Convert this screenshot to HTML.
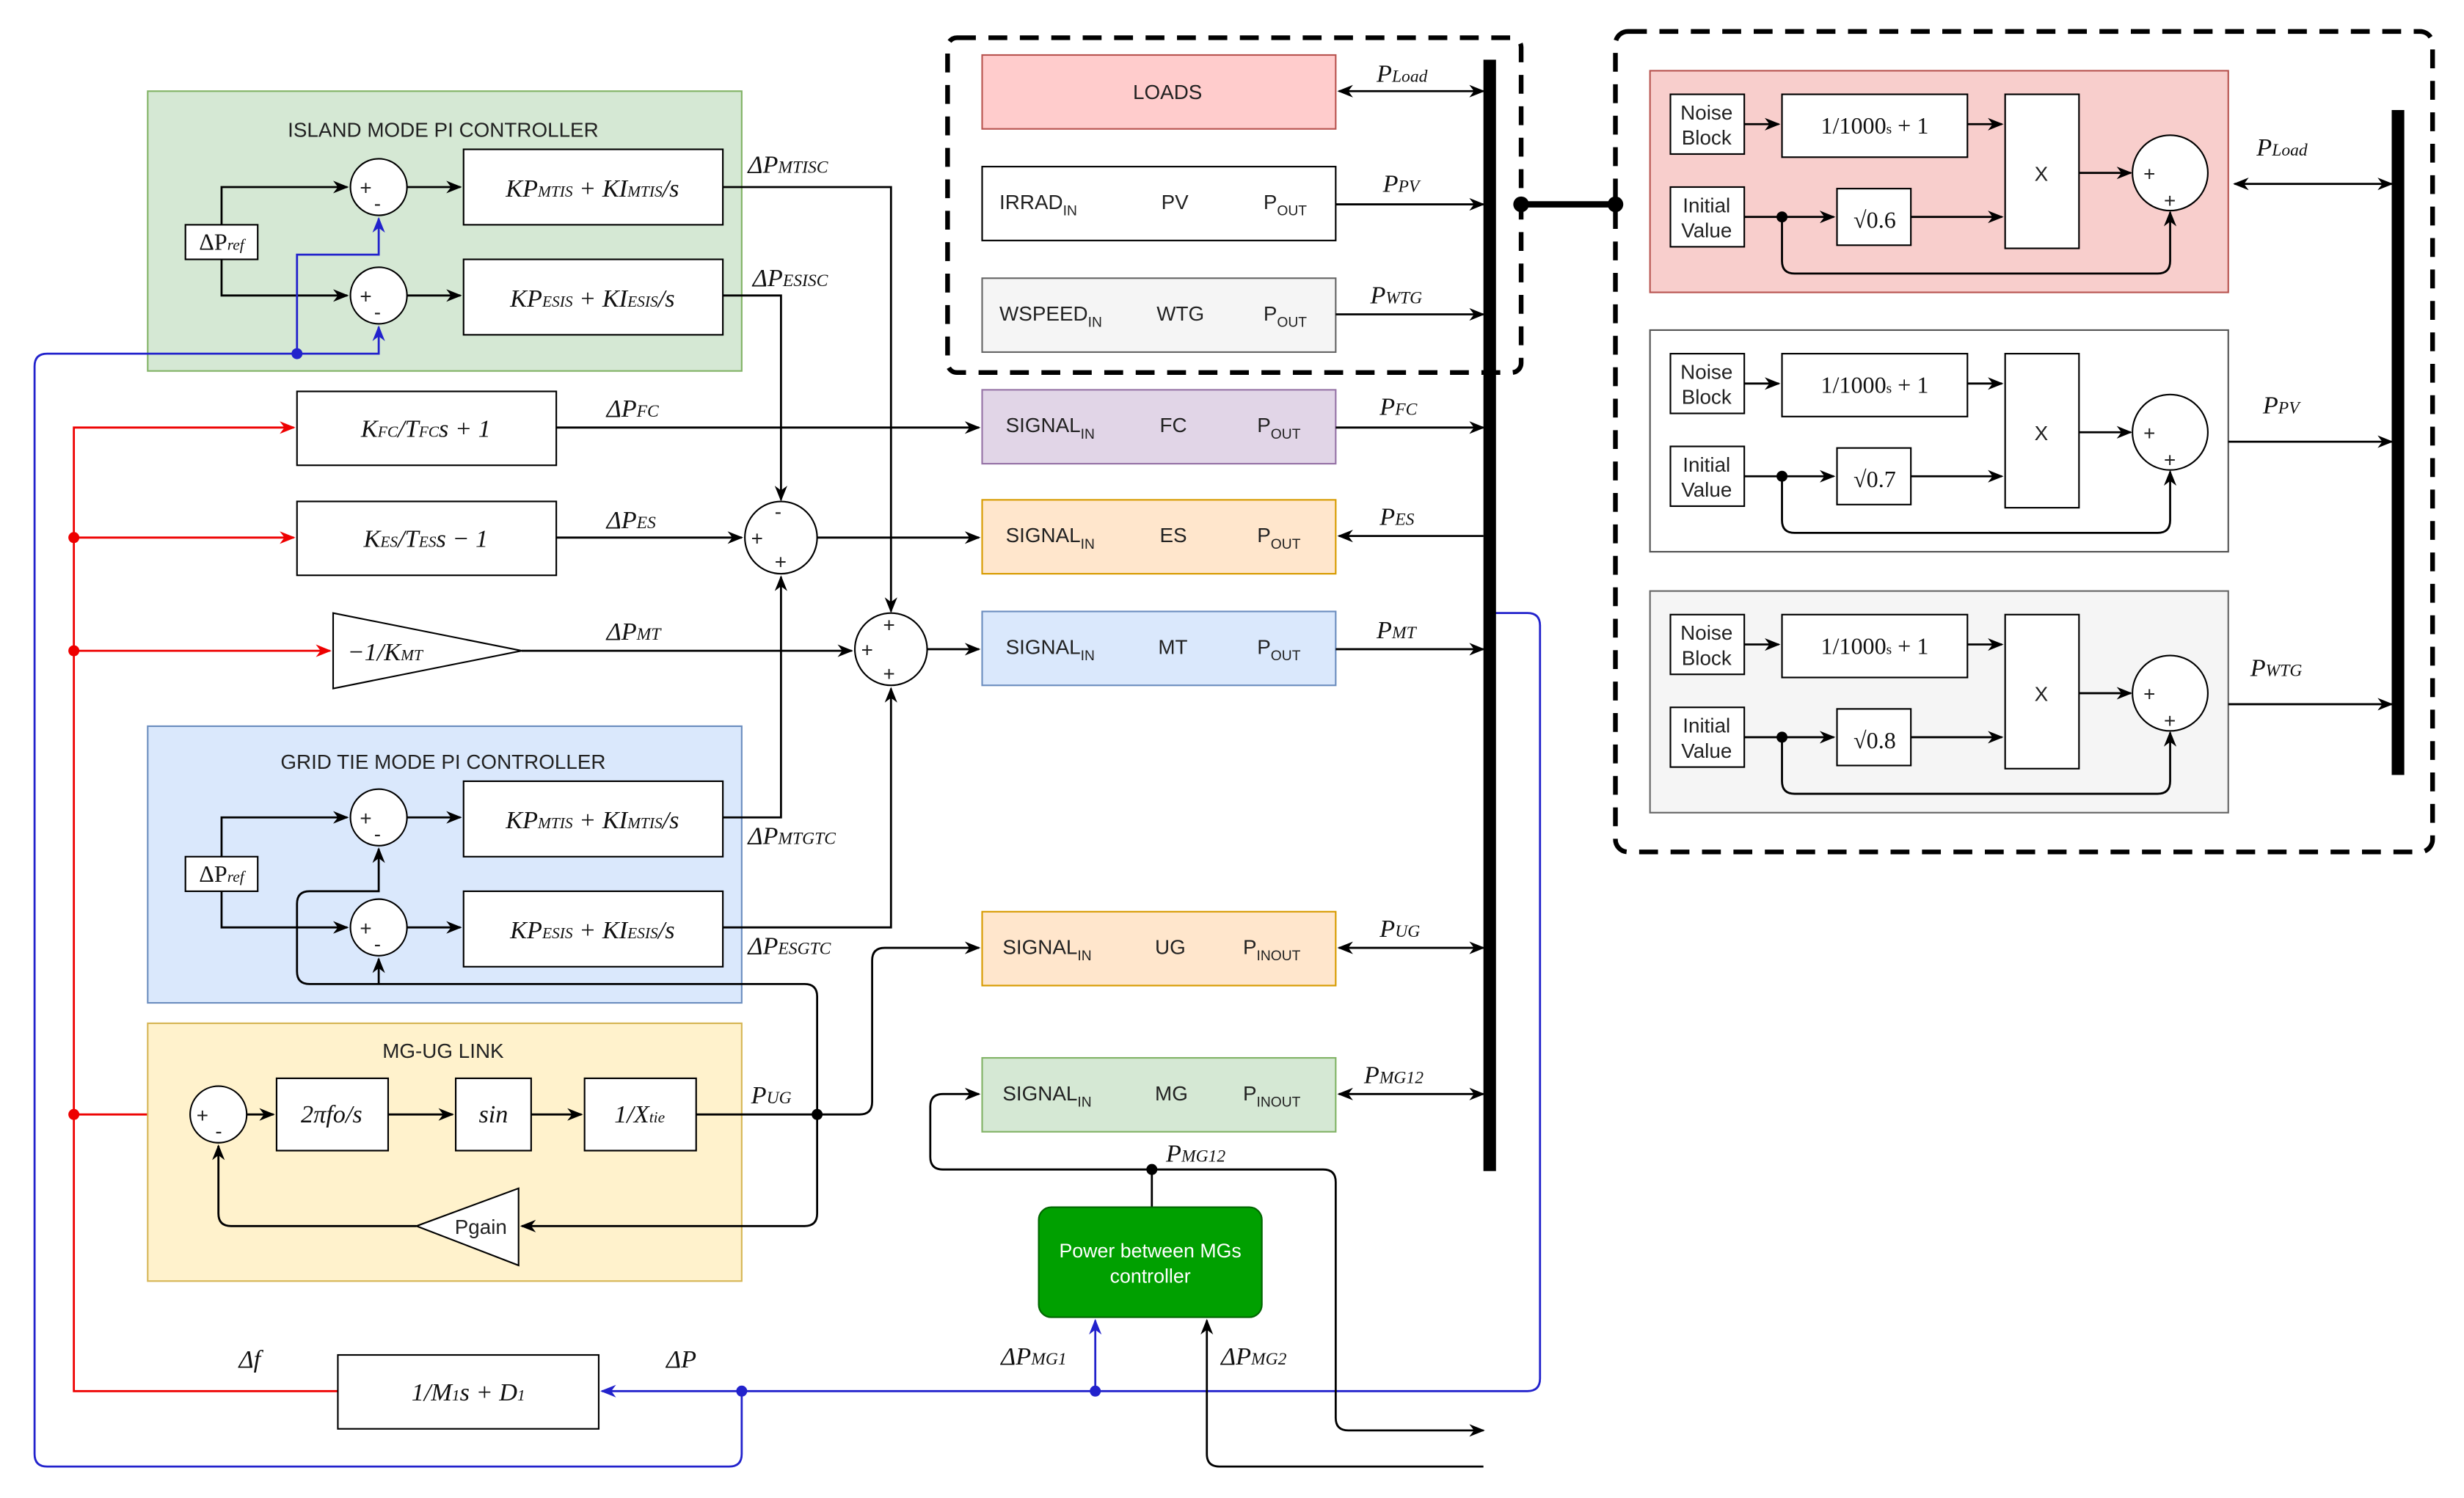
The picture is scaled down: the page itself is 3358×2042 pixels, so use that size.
<!DOCTYPE html>
<html><head><meta charset="utf-8"><style>
html,body{margin:0;padding:0;background:#fff;}
svg{display:block;}
.t{font-family:"Liberation Sans",sans-serif;font-size:13px;fill:#222;}
.m{font-family:"Liberation Serif",serif;font-style:italic;font-size:16px;fill:#111;}
.ms{font-family:"Liberation Serif",serif;font-size:15px;fill:#111;}
</style></head><body>
<svg width="3358" height="2042" viewBox="0 0 1568 953" preserveAspectRatio="none" xmlns="http://www.w3.org/2000/svg">
<defs>
<marker id="a" markerWidth="10" markerHeight="10" refX="9" refY="5" orient="auto" markerUnits="userSpaceOnUse"><path d="M0,1 L10,5 L0,9 L3,5z" fill="#000"/></marker>
<marker id="ar" markerWidth="10" markerHeight="10" refX="9" refY="5" orient="auto" markerUnits="userSpaceOnUse"><path d="M0,1 L10,5 L0,9 L3,5z" fill="#e00"/></marker>
<marker id="ab" markerWidth="10" markerHeight="10" refX="9" refY="5" orient="auto" markerUnits="userSpaceOnUse"><path d="M0,1 L10,5 L0,9 L3,5z" fill="#22c"/></marker>
<marker id="as" markerWidth="10" markerHeight="10" refX="1" refY="5" orient="auto" markerUnits="userSpaceOnUse"><path d="M10,1 L0,5 L10,9 L7,5z" fill="#000"/></marker>
</defs>
<rect width="1568" height="953" fill="#fff"/>

<!-- Island PI -->
<rect x="94" y="58" width="378" height="178" fill="#d5e8d4" stroke="#82b366"/>
<text class="t" x="282" y="87" text-anchor="middle">ISLAND MODE PI CONTROLLER</text>
<rect x="118" y="143" width="46" height="22" fill="#fff" stroke="#000"/>
<text class="ms" x="141" y="159" text-anchor="middle">ΔP<tspan font-size="10" font-style="italic">ref</tspan></text>
<g fill="none" stroke="#000" stroke-width="1.3">
<path d="M141,143 V119 H221" marker-end="url(#a)"/>
<path d="M141,165 V188 H221" marker-end="url(#a)"/>
<path d="M259,119 H293" marker-end="url(#a)"/>
<path d="M259,188 H293" marker-end="url(#a)"/>
<path d="M460,119 H567 V389" marker-end="url(#a)"/>
<path d="M460,188 H497 V318" marker-end="url(#a)"/>
</g>
<circle cx="241" cy="119" r="18" fill="#fff" stroke="#000"/>
<circle cx="241" cy="188" r="18" fill="#fff" stroke="#000"/>
<text class="t" x="229" y="124">+</text><text class="t" x="238" y="134">-</text>
<text class="t" x="229" y="193">+</text><text class="t" x="238" y="203">-</text>
<rect x="295" y="95" width="165" height="48" fill="#fff" stroke="#000"/>
<text class="m" x="377" y="125" text-anchor="middle">KP<tspan font-size="10">MTIS</tspan> + KI<tspan font-size="10">MTIS</tspan>/s</text>
<rect x="295" y="165" width="165" height="48" fill="#fff" stroke="#000"/>
<text class="m" x="377" y="195" text-anchor="middle">KP<tspan font-size="10">ESIS</tspan> + KI<tspan font-size="10">ESIS</tspan>/s</text>
<text class="m" x="476" y="110">ΔP<tspan font-size="11">MTISC</tspan></text>
<text class="m" x="479" y="182">ΔP<tspan font-size="11">ESISC</tspan></text>

<!-- blue lines -->
<g fill="none" stroke="#22c" stroke-width="1.3">
<path d="M189,225 V162 H241 V139" marker-end="url(#ab)"/>
<path d="M189,225 H241 V208" marker-end="url(#ab)"/>
<path d="M189,225 H30 Q22,225 22,233 V925 Q22,933 30,933 H464 Q472,933 472,925 V885"/>
<path d="M950,390 H972 Q980,390 980,398 V877 Q980,885 972,885 H383" marker-end="url(#ab)"/>
<path d="M697,885 V840" marker-end="url(#ab)"/>
</g>
<circle cx="189" cy="225" r="3.5" fill="#22c"/>
<circle cx="472" cy="885" r="3.5" fill="#22c"/>
<circle cx="697" cy="885" r="3.5" fill="#22c"/>

<!-- red lines -->
<g fill="none" stroke="#e00" stroke-width="1.3">
<path d="M215,885 H47 V272 H187" marker-end="url(#ar)"/>
<path d="M47,342 H187" marker-end="url(#ar)"/>
<path d="M47,414 H210" marker-end="url(#ar)"/>
<path d="M47,709 H119" marker-end="url(#ar)"/>
</g>
<circle cx="47" cy="342" r="3.5" fill="#e00"/>
<circle cx="47" cy="414" r="3.5" fill="#e00"/>
<circle cx="47" cy="709" r="3.5" fill="#e00"/>

<rect x="189" y="249" width="165" height="47" fill="#fff" stroke="#000"/>
<text class="m" x="271" y="278" text-anchor="middle">K<tspan font-size="10">FC</tspan>/T<tspan font-size="10">FC</tspan>s + 1</text>
<rect x="189" y="319" width="165" height="47" fill="#fff" stroke="#000"/>
<text class="m" x="271" y="348" text-anchor="middle">K<tspan font-size="10">ES</tspan>/T<tspan font-size="10">ES</tspan>s − 1</text>
<path d="M212,390 L212,438 L332,414Z" fill="#fff" stroke="#000"/>
<text class="m" x="245" y="420" text-anchor="middle">−1/K<tspan font-size="10">MT</tspan></text>

<g fill="none" stroke="#000" stroke-width="1.3">
<path d="M354,272 H623" marker-end="url(#a)"/>
<path d="M354,342 H472" marker-end="url(#a)"/>
<path d="M520,342 H623" marker-end="url(#a)"/>
<path d="M332,414 H542" marker-end="url(#a)"/>
<path d="M590,413 H623" marker-end="url(#a)"/>
</g>
<text class="m" x="386" y="265">ΔP<tspan font-size="11">FC</tspan></text>
<text class="m" x="386" y="336">ΔP<tspan font-size="11">ES</tspan></text>
<text class="m" x="386" y="407">ΔP<tspan font-size="11">MT</tspan></text>
<circle cx="497" cy="342" r="23" fill="#fff" stroke="#000"/>
<text class="t" x="478" y="347">+</text><text class="t" x="493" y="330">-</text><text class="t" x="493" y="362">+</text>
<circle cx="567" cy="413" r="23" fill="#fff" stroke="#000"/>
<text class="t" x="548" y="418">+</text><text class="t" x="562" y="402">+</text><text class="t" x="562" y="433">+</text>

<!-- Grid tie -->
<rect x="94" y="462" width="378" height="176" fill="#dae8fc" stroke="#6c8ebf"/>
<text class="t" x="282" y="489" text-anchor="middle">GRID TIE MODE PI CONTROLLER</text>
<rect x="118" y="545" width="46" height="22" fill="#fff" stroke="#000"/>
<text class="ms" x="141" y="561" text-anchor="middle">ΔP<tspan font-size="10" font-style="italic">ref</tspan></text>
<g fill="none" stroke="#000" stroke-width="1.3">
<path d="M141,545 V520 H221" marker-end="url(#a)"/>
<path d="M141,567 V590 H221" marker-end="url(#a)"/>
<path d="M259,520 H293" marker-end="url(#a)"/>
<path d="M259,590 H293" marker-end="url(#a)"/>
<path d="M460,520 H497 V367" marker-end="url(#a)"/>
<path d="M460,590 H567 V438" marker-end="url(#a)"/>
<path d="M241,626 V610" marker-end="url(#a)"/>
<path d="M189,575 Q189,567 197,567 H241 V540" marker-end="url(#a)"/>
</g>
<circle cx="241" cy="520" r="18" fill="#fff" stroke="#000"/>
<circle cx="241" cy="590" r="18" fill="#fff" stroke="#000"/>
<text class="t" x="229" y="525">+</text><text class="t" x="238" y="535">-</text>
<text class="t" x="229" y="595">+</text><text class="t" x="238" y="605">-</text>
<rect x="295" y="497" width="165" height="48" fill="#fff" stroke="#000"/>
<text class="m" x="377" y="527" text-anchor="middle">KP<tspan font-size="10">MTIS</tspan> + KI<tspan font-size="10">MTIS</tspan>/s</text>
<rect x="295" y="567" width="165" height="48" fill="#fff" stroke="#000"/>
<text class="m" x="377" y="597" text-anchor="middle">KP<tspan font-size="10">ESIS</tspan> + KI<tspan font-size="10">ESIS</tspan>/s</text>
<text class="m" x="476" y="537">ΔP<tspan font-size="11">MTGTC</tspan></text>
<text class="m" x="476" y="607">ΔP<tspan font-size="11">ESGTC</tspan></text>

<!-- MG-UG link -->
<rect x="94" y="651" width="378" height="164" fill="#fff2cc" stroke="#d6b656"/>
<path d="M189,575 V618 Q189,626 197,626 H512 Q520,626 520,634 V772 Q520,780 512,780 H332" fill="none" stroke="#000" stroke-width="1.3" marker-end="url(#a)"/>
<text class="t" x="282" y="673" text-anchor="middle">MG-UG LINK</text>
<circle cx="139" cy="709" r="18" fill="#fff" stroke="#000"/>
<text class="t" x="125" y="714">+</text><text class="t" x="137" y="724">-</text>
<rect x="176" y="686" width="71" height="46" fill="#fff" stroke="#000"/>
<text class="m" x="211" y="714" text-anchor="middle">2πfo/s</text>
<rect x="290" y="686" width="48" height="46" fill="#fff" stroke="#000"/>
<text class="m" x="314" y="714" text-anchor="middle">sin</text>
<rect x="372" y="686" width="71" height="46" fill="#fff" stroke="#000"/>
<text class="m" x="407" y="714" text-anchor="middle">1/X<tspan font-size="10">tie</tspan></text>
<path d="M265,780 L330,756 L330,805Z" fill="#fff" stroke="#000"/>
<text class="t" x="306" y="785" text-anchor="middle">Pgain</text>
<g fill="none" stroke="#000" stroke-width="1.3">
<path d="M157,709 H174" marker-end="url(#a)"/>
<path d="M247,709 H288" marker-end="url(#a)"/>
<path d="M338,709 H370" marker-end="url(#a)"/>
<path d="M443,709 H547 Q555,709 555,701 V611 Q555,603 563,603 H623" marker-end="url(#a)"/>
<path d="M265,780 H147 Q139,780 139,772 V729" marker-end="url(#a)"/>
</g>
<circle cx="520" cy="709" r="3.5" fill="#000"/>
<text class="m" x="478" y="702">P<tspan font-size="11">UG</tspan></text>

<!-- delta f box -->
<rect x="215" y="862" width="166" height="47" fill="#fff" stroke="#000"/>
<text class="m" x="298" y="891" text-anchor="middle">1/M<tspan font-size="10">1</tspan>s + D<tspan font-size="10">1</tspan></text>
<text class="m" x="152" y="870">Δf</text>
<text class="m" x="424" y="870">ΔP</text>
<text class="m" x="637" y="868">ΔP<tspan font-size="11">MG1</tspan></text>
<text class="m" x="777" y="868">ΔP<tspan font-size="11">MG2</tspan></text>

<!-- right blocks -->
<rect x="603" y="24" width="365" height="213" fill="none" stroke="#000" stroke-width="3" stroke-dasharray="12,8" rx="6"/>
<rect x="625" y="35" width="225" height="47" fill="#ffcccc" stroke="#b85450"/>
<text class="t" x="743" y="63" text-anchor="middle">LOADS</text>
<rect x="625" y="106" width="225" height="47" fill="#fff" stroke="#000"/>
<text class="t" x="636" y="133">IRRAD<tspan font-size="9" dy="4">IN</tspan></text><text class="t" x="739" y="133">PV</text><text class="t" x="804" y="133">P<tspan font-size="9" dy="4">OUT</tspan></text>
<rect x="625" y="177" width="225" height="47" fill="#f5f5f5" stroke="#666"/>
<text class="t" x="636" y="204" fill="#444">WSPEED<tspan font-size="9" dy="4">IN</tspan></text><text class="t" x="736" y="204">WTG</text><text class="t" x="804" y="204">P<tspan font-size="9" dy="4">OUT</tspan></text>
<rect x="625" y="248" width="225" height="47" fill="#e1d5e7" stroke="#9673a6"/>
<text class="t" x="640" y="275">SIGNAL<tspan font-size="9" dy="4">IN</tspan></text><text class="t" x="738" y="275">FC</text><text class="t" x="800" y="275">P<tspan font-size="9" dy="4">OUT</tspan></text>
<rect x="625" y="318" width="225" height="47" fill="#ffe6cc" stroke="#d79b00"/>
<text class="t" x="640" y="345">SIGNAL<tspan font-size="9" dy="4">IN</tspan></text><text class="t" x="738" y="345">ES</text><text class="t" x="800" y="345">P<tspan font-size="9" dy="4">OUT</tspan></text>
<rect x="625" y="389" width="225" height="47" fill="#dae8fc" stroke="#6c8ebf"/>
<text class="t" x="640" y="416">SIGNAL<tspan font-size="9" dy="4">IN</tspan></text><text class="t" x="737" y="416">MT</text><text class="t" x="800" y="416">P<tspan font-size="9" dy="4">OUT</tspan></text>
<rect x="625" y="580" width="225" height="47" fill="#ffe6cc" stroke="#d79b00"/>
<text class="t" x="638" y="607">SIGNAL<tspan font-size="9" dy="4">IN</tspan></text><text class="t" x="735" y="607">UG</text><text class="t" x="791" y="607">P<tspan font-size="9" dy="4">INOUT</tspan></text>
<rect x="625" y="673" width="225" height="47" fill="#d5e8d4" stroke="#82b366"/>
<text class="t" x="638" y="700">SIGNAL<tspan font-size="9" dy="4">IN</tspan></text><text class="t" x="735" y="700">MG</text><text class="t" x="791" y="700">P<tspan font-size="9" dy="4">INOUT</tspan></text>

<line x1="948" y1="38" x2="948" y2="745" stroke="#000" stroke-width="8"/>
<g fill="none" stroke="#000" stroke-width="1.3">
<path d="M852,58 H944" marker-start="url(#as)" marker-end="url(#a)"/>
<path d="M850,130 H944" marker-end="url(#a)"/>
<path d="M850,200 H944" marker-end="url(#a)"/>
<path d="M850,272 H944" marker-end="url(#a)"/>
<path d="M944,341 H852" marker-end="url(#a)"/>
<path d="M850,413 H944" marker-end="url(#a)"/>
<path d="M852,603 H944" marker-start="url(#as)" marker-end="url(#a)"/>
<path d="M852,696 H944" marker-start="url(#as)" marker-end="url(#a)"/>
<path d="M733,744 H600 Q592,744 592,736 V704 Q592,696 600,696 H623" marker-end="url(#a)"/>
<path d="M733,744 V768"/>
<path d="M733,744 H842 Q850,744 850,752 V902 Q850,910 858,910 H944" marker-end="url(#a)"/>
<path d="M944,933 H776 Q768,933 768,925 V840" marker-end="url(#a)"/>
</g>
<circle cx="733" cy="744" r="3.5" fill="#000"/>
<text class="m" x="876" y="52">P<tspan font-size="11">Load</tspan></text>
<text class="m" x="880" y="122">P<tspan font-size="11">PV</tspan></text>
<text class="m" x="872" y="193">P<tspan font-size="11">WTG</tspan></text>
<text class="m" x="878" y="264">P<tspan font-size="11">FC</tspan></text>
<text class="m" x="878" y="334">P<tspan font-size="11">ES</tspan></text>
<text class="m" x="876" y="406">P<tspan font-size="11">MT</tspan></text>
<text class="m" x="878" y="596">P<tspan font-size="11">UG</tspan></text>
<text class="m" x="868" y="689">P<tspan font-size="11">MG12</tspan></text>
<text class="m" x="742" y="739">P<tspan font-size="11">MG12</tspan></text>

<rect x="661" y="768" width="142" height="70" rx="8" fill="#00a000" stroke="#006600"/>
<text class="t" x="732" y="800" text-anchor="middle" style="fill:#fff;font-size:12.5px">Power between MGs</text>
<text class="t" x="732" y="816" text-anchor="middle" style="fill:#fff;font-size:12.5px">controller</text>

<!-- connection -->
<line x1="968" y1="130" x2="1028" y2="130" stroke="#000" stroke-width="4"/>
<circle cx="968" cy="130" r="5" fill="#000"/><circle cx="1028" cy="130" r="5" fill="#000"/>

<!-- right dashed panel -->
<rect x="1028" y="20" width="520" height="522" rx="8" fill="none" stroke="#000" stroke-width="3" stroke-dasharray="12,8"/>
<line x1="1526" y1="70" x2="1526" y2="493" stroke="#000" stroke-width="8"/>

<rect x="1050" y="45" width="368" height="141" fill="#f8cecc" stroke="#b85450"/>
<rect x="1050" y="210" width="368" height="141" fill="#fff" stroke="#555"/>
<rect x="1050" y="376" width="368" height="141" fill="#f5f5f5" stroke="#666"/>

<g>
<rect x="1063" y="60" width="47" height="38" fill="#fff" stroke="#000"/><text class="t" x="1086" y="76" text-anchor="middle">Noise</text><text class="t" x="1086" y="92" text-anchor="middle">Block</text>
<rect x="1063" y="119" width="47" height="38" fill="#fff" stroke="#000"/><text class="t" x="1086" y="135" text-anchor="middle">Initial</text><text class="t" x="1086" y="151" text-anchor="middle">Value</text>
<rect x="1134" y="60" width="118" height="40" fill="#fff" stroke="#000"/><text class="ms" x="1193" y="85" text-anchor="middle">1/1000<tspan font-size="9">s</tspan> + 1</text>
<rect x="1169" y="120" width="47" height="36" fill="#fff" stroke="#000"/><text class="ms" x="1193" y="145" text-anchor="middle" font-size="18">√0.6</text>
<rect x="1276" y="60" width="47" height="98" fill="#fff" stroke="#000"/><text class="t" x="1299" y="115" text-anchor="middle">X</text>
<circle cx="1381" cy="110" r="24" fill="#fff" stroke="#000"/><text class="t" x="1364" y="115">+</text><text class="t" x="1377" y="132">+</text>
<g fill="none" stroke="#000" stroke-width="1.3">
<path d="M1110,79 H1132" marker-end="url(#a)"/><path d="M1252,79 H1274" marker-end="url(#a)"/>
<path d="M1110,138 H1167" marker-end="url(#a)"/><path d="M1216,138 H1274" marker-end="url(#a)"/>
<path d="M1323,110 H1356" marker-end="url(#a)"/>
<path d="M1134,138 V166 Q1134,174 1142,174 H1373 Q1381,174 1381,166 V135" marker-end="url(#a)"/>
<path d="M1422,117 H1522" marker-start="url(#as)" marker-end="url(#a)"/>
</g><circle cx="1134" cy="138" r="3.5" fill="#000"/>
<text class="m" x="1436" y="99">P<tspan font-size="11">Load</tspan></text>
</g>
<g transform="translate(0,165)">
<rect x="1063" y="60" width="47" height="38" fill="#fff" stroke="#000"/><text class="t" x="1086" y="76" text-anchor="middle">Noise</text><text class="t" x="1086" y="92" text-anchor="middle">Block</text>
<rect x="1063" y="119" width="47" height="38" fill="#fff" stroke="#000"/><text class="t" x="1086" y="135" text-anchor="middle">Initial</text><text class="t" x="1086" y="151" text-anchor="middle">Value</text>
<rect x="1134" y="60" width="118" height="40" fill="#fff" stroke="#000"/><text class="ms" x="1193" y="85" text-anchor="middle">1/1000<tspan font-size="9">s</tspan> + 1</text>
<rect x="1169" y="120" width="47" height="36" fill="#fff" stroke="#000"/><text class="ms" x="1193" y="145" text-anchor="middle" font-size="18">√0.7</text>
<rect x="1276" y="60" width="47" height="98" fill="#fff" stroke="#000"/><text class="t" x="1299" y="115" text-anchor="middle">X</text>
<circle cx="1381" cy="110" r="24" fill="#fff" stroke="#000"/><text class="t" x="1364" y="115">+</text><text class="t" x="1377" y="132">+</text>
<g fill="none" stroke="#000" stroke-width="1.3">
<path d="M1110,79 H1132" marker-end="url(#a)"/><path d="M1252,79 H1274" marker-end="url(#a)"/>
<path d="M1110,138 H1167" marker-end="url(#a)"/><path d="M1216,138 H1274" marker-end="url(#a)"/>
<path d="M1323,110 H1356" marker-end="url(#a)"/>
<path d="M1134,138 V166 Q1134,174 1142,174 H1373 Q1381,174 1381,166 V135" marker-end="url(#a)"/>
<path d="M1418,116 H1522" marker-end="url(#a)"/>
</g><circle cx="1134" cy="138" r="3.5" fill="#000"/>
<text class="m" x="1440" y="98">P<tspan font-size="11">PV</tspan></text>
</g>
<g transform="translate(0,331)">
<rect x="1063" y="60" width="47" height="38" fill="#fff" stroke="#000"/><text class="t" x="1086" y="76" text-anchor="middle">Noise</text><text class="t" x="1086" y="92" text-anchor="middle">Block</text>
<rect x="1063" y="119" width="47" height="38" fill="#fff" stroke="#000"/><text class="t" x="1086" y="135" text-anchor="middle">Initial</text><text class="t" x="1086" y="151" text-anchor="middle">Value</text>
<rect x="1134" y="60" width="118" height="40" fill="#fff" stroke="#000"/><text class="ms" x="1193" y="85" text-anchor="middle">1/1000<tspan font-size="9">s</tspan> + 1</text>
<rect x="1169" y="120" width="47" height="36" fill="#fff" stroke="#000"/><text class="ms" x="1193" y="145" text-anchor="middle" font-size="18">√0.8</text>
<rect x="1276" y="60" width="47" height="98" fill="#fff" stroke="#000"/><text class="t" x="1299" y="115" text-anchor="middle">X</text>
<circle cx="1381" cy="110" r="24" fill="#fff" stroke="#000"/><text class="t" x="1364" y="115">+</text><text class="t" x="1377" y="132">+</text>
<g fill="none" stroke="#000" stroke-width="1.3">
<path d="M1110,79 H1132" marker-end="url(#a)"/><path d="M1252,79 H1274" marker-end="url(#a)"/>
<path d="M1110,138 H1167" marker-end="url(#a)"/><path d="M1216,138 H1274" marker-end="url(#a)"/>
<path d="M1323,110 H1356" marker-end="url(#a)"/>
<path d="M1134,138 V166 Q1134,174 1142,174 H1373 Q1381,174 1381,166 V135" marker-end="url(#a)"/>
<path d="M1418,117 H1522" marker-end="url(#a)"/>
</g><circle cx="1134" cy="138" r="3.5" fill="#000"/>
<text class="m" x="1432" y="99">P<tspan font-size="11">WTG</tspan></text>
</g>
</svg>
</body></html>
